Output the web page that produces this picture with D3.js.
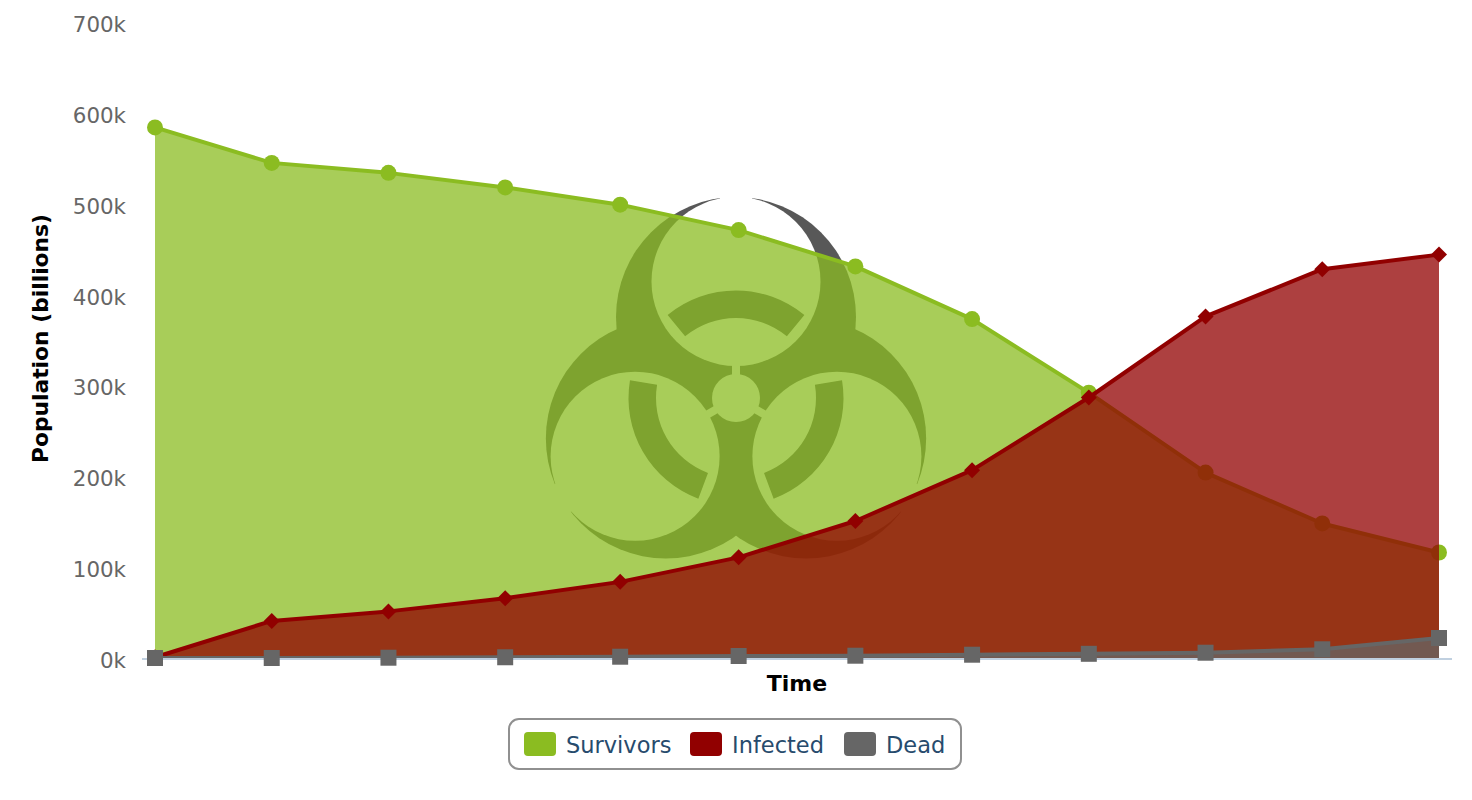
<!DOCTYPE html>
<html><head><meta charset="utf-8">
<script src="https://cdn.jsdelivr.net/npm/d3@7"></script>
<style>html,body{margin:0;padding:0;background:#fff}svg{display:block}text{font-family:"DejaVu Sans",sans-serif}</style>
</head><body><svg id="c" width="1472" height="800"></svg>
<script>
const timeSteps=[0,1,2,3,3.985,5,6,7,8,9,10,11];
const survivors=[585000,546000,535000,519000,500000,472000,432000,374000,293000,205000,149000,117000];
const infected=[1700,41700,52200,66700,84700,111700,151700,207700,287700,377000,429000,445000];
const dead=[900,900,1200,1700,2300,3100,3400,4500,5500,6700,10500,22900];
const yTicks=[0,100000,200000,300000,400000,500000,600000,700000];
const legendNames=["Survivors","Infected","Dead"];
const seriesColors=["#8bbc21","#910000","#666666"];
const svg=d3.select("#c");
const x=d3.scaleLinear().domain([0,11]).range([155,1439]);
const y=d3.scaleLinear().domain([0,700000]).range([658.8,23]);
const defs=svg.append("defs");
defs.append("filter").attr("id","soft").append("feGaussianBlur").attr("stdDeviation",0.6);
// watermark
const hx=736,hy=398,dirs=[-90,150,30].map(a=>a*Math.PI/180);
const m=defs.append("mask").attr("id","bio").attr("maskUnits","userSpaceOnUse").attr("x",500).attr("y",170).attr("width",480).attr("height",420);
dirs.forEach(a=>m.append("circle").attr("cx",hx+81*Math.cos(a)).attr("cy",hy+81*Math.sin(a)).attr("r",120).attr("fill","#fff"));
dirs.forEach(a=>m.append("circle").attr("cx",hx+116.5*Math.cos(a)).attr("cy",hy+116.5*Math.sin(a)).attr("r",84.5).attr("fill","#000"));
m.append("circle").attr("cx",hx).attr("cy",hy).attr("r",24).attr("fill","#000");
dirs.forEach(a=>m.append("line").attr("x1",hx).attr("y1",hy).attr("x2",hx+40*Math.cos(a)).attr("y2",hy+40*Math.sin(a)).attr("stroke","#000").attr("stroke-width",8));
dirs.forEach(a=>m.append("line").attr("x1",hx+190*Math.cos(a)).attr("y1",hy+190*Math.sin(a)).attr("x2",hx+210*Math.cos(a)).attr("y2",hy+210*Math.sin(a)).attr("stroke","#000").attr("stroke-width",32));
const wm=svg.append("g").attr("filter","url(#soft)");
wm.append("rect").attr("x",500).attr("y",170).attr("width",480).attr("height",420).attr("fill","#585858").attr("mask","url(#bio)");
const band=d3.arc().innerRadius(80).outerRadius(107.5);
dirs.forEach(a=>{const c=a+Math.PI/2,h=39.5*Math.PI/180;
  wm.append("path").attr("transform",`translate(${hx},${hy})`).attr("d",band({startAngle:c-h,endAngle:c+h})).attr("fill","#585858");});
// y labels
const yAxis=svg.append("g").attr("transform","translate(126,0)").call(d3.axisLeft(y).tickValues(yTicks).tickSize(0).tickPadding(0).tickFormat(d=>(d/1000)+"k"));
yAxis.select(".domain").remove();
yAxis.selectAll("text").attr("fill","#666").style("font-size","21.4px").attr("dy","0.4em");
// series
const symbols=[d3.symbolCircle,d3.symbolSquare,d3.symbolSquare];
const sizes=[201,128,256];
const drawMarkers=(g,vals,i)=>g.selectAll("path.m").data(vals).join("path").attr("class","m")
    .attr("transform",(d,j)=>`translate(${x(timeSteps[j])},${y(d)})${i==1?" rotate(45)":""}`)
    .attr("d",d3.symbol().type(symbols[i]).size(sizes[i])()).attr("fill",seriesColors[i]);
[survivors,infected,dead].forEach((vals,i)=>{
  const g=svg.append("g"),col=seriesColors[i];
  g.append("path").attr("d",d3.area().x((d,j)=>x(timeSteps[j])).y0(y(0)).y1(d=>y(d))(vals)).attr("fill",col).attr("fill-opacity",.75);
  g.append("path").attr("d",d3.line().x((d,j)=>x(timeSteps[j])).y(d=>y(d))(vals)).attr("fill","none").attr("stroke",col).attr("stroke-width",4).attr("stroke-linejoin","round");
  if(i<2) drawMarkers(g,vals,i);
});
// axis line sits over the lines, under the last markers
svg.append("line").attr("x1",142).attr("x2",1452).attr("y1",y(0)+0.2).attr("y2",y(0)+0.2).attr("stroke","#c0d0e0").attr("stroke-width",2);
drawMarkers(svg.append("g"),dead,2);
// titles
svg.append("text").attr("transform","translate(48,338.5) rotate(-90)").attr("text-anchor","middle").attr("font-weight","bold").attr("font-size",21.8).attr("fill","#000").text("Population (billions)");
svg.append("text").attr("x",797).attr("y",691).attr("text-anchor","middle").attr("font-weight","bold").attr("font-size",22).attr("fill","#000").text("Time");
// legend
svg.append("rect").attr("x",509).attr("y",719).attr("width",452).attr("height",50).attr("rx",10).attr("fill","#fff").attr("stroke","#909090").attr("stroke-width",2);
const swatchX=[524,690,844],labelX=[566,732,886];
legendNames.forEach((n,i)=>{
  svg.append("rect").attr("x",swatchX[i]).attr("y",732).attr("width",32).attr("height",24).attr("rx",4).attr("fill",seriesColors[i]);
  svg.append("text").attr("x",labelX[i]).attr("y",753).attr("font-size",22.5).attr("fill","#274b6d").text(n);
});
</script></body></html>
